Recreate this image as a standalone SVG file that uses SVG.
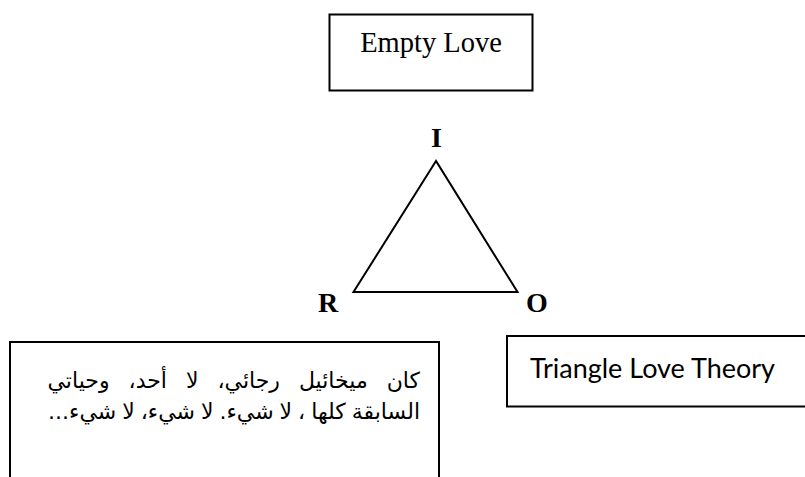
<svg xmlns="http://www.w3.org/2000/svg" width="805" height="477" viewBox="0 0 805 477">
<style>
.box{fill:none;stroke:#000;stroke-width:2}
.serif{font-family:"Liberation Serif","Times New Roman",serif;fill:#000}
.lbl{font-family:"Liberation Serif","Times New Roman",serif;font-weight:bold;font-size:28px;fill:#000;text-anchor:middle}
.ar{font-family:"DejaVu Sans","Noto Sans",sans-serif;font-size:22px;fill:#000}
</style>
<rect width="805" height="477" fill="#fff"/>
<g id="empty-love">
<rect class="box" x="329.5" y="14.5" width="203" height="76"/>
<text class="serif" x="431" y="52" font-size="28.5" text-anchor="middle">Empty Love</text>
</g>
<g id="triangle">
<polygon class="box" points="436,161 353.5,292 517.5,292" stroke-linejoin="miter"/>
<text class="lbl" x="436.5" y="147">I</text>
<text class="lbl" x="328" y="312">R</text>
<text class="lbl" x="537" y="312">O</text>
</g>
<g id="arabic-quote">
<path class="box" d="M10,478 V342 H439 V478"/>
<text class="ar" x="420" y="388" direction="rtl" word-spacing="12">كان ميخائيل رجائي، لا أحد، وحياتي</text>
<text class="ar" x="420" y="419" direction="rtl" word-spacing="-1">السابقة كلها ، لا شيء. لا شيء، لا شيء...</text>
</g>
<g id="triangle-love-theory">
<path class="box" d="M807,336 H507 V406.5 H807"/>
<text x="530" y="378" font-family="Lato,'Liberation Sans',sans-serif" font-size="27" fill="#000" textLength="245" lengthAdjust="spacing">Triangle Love Theory</text>
</g>
</svg>
